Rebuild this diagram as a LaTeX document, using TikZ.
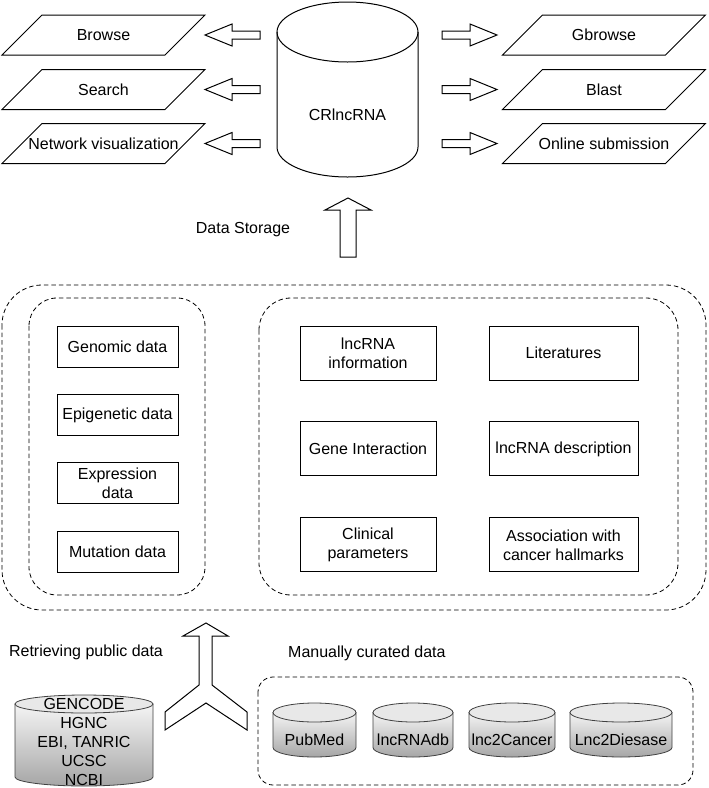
\documentclass[tikz,border=0pt]{standalone}
\usepackage{fontspec}
\setmainfont{Liberation Sans}
\usetikzlibrary{positioning, calc}
\tikzset{
  txt/.style = {font=\fontsize{16}{19}\selectfont, align=center, inner sep=0pt},
  box/.style = {txt, draw, line width=0.9pt},
  leftbox/.style = {box, minimum width=121pt, minimum height=41pt},
  infobox/.style = {box, minimum height=54pt},
  group/.style = {draw, line width=0.8pt, dash pattern=on 4.5pt off 3pt},
  outline/.style = {draw, line width=1pt, line join=miter},
  cylbody/.style = {draw=black!75, line width=0.8pt, top color=gray!8, bottom color=gray!70},
  cyltop/.style = {draw=black!75, line width=0.8pt, fill=gray!18},
  sidearr/.pic = {\draw[outline] (-27.5,4) -- (0.5,4) -- (0.5,11) -- (27.5,0)
    -- (0.5,-11) -- (0.5,-4) -- (-27.5,-4) -- cycle;}
}

\begin{document}
\begin{tikzpicture}[x=1pt, y=1pt]
\useasboundingbox (0,0) rectangle (709,-788);

% database in the middle
\draw[outline] (277,-32) -- (277,-147)
  arc[start angle=180, end angle=360, x radius=70.5, y radius=30] -- (418,-32);
\draw[outline] (347.5,-32) ellipse [x radius=70.5, y radius=30];
\node[txt] (crlnc) at (347.5,-115) {CRlncRNA};

% web functions
\foreach \nm/\cx/\cy/\txt in {browse/103.5/35/Browse, search/103.5/89.5/Search,
    netvis/103.5/143.5/Network visualization, gbrowse/604/35/Gbrowse,
    blast/604/89.5/Blast, submit/604/143.5/Online submission}{
  \node[txt] (\nm) at (\cx,-\cy) {\txt};
  \draw[outline] ($(\nm.center)+(-61.5,20)$) -- ++(163,0) -- ++(-40,-40)
    -- ++(-163,0) -- cycle;
}
\foreach \cy [count=\i] in {35,89.5,143.5}{
  \pic[rotate=180] (out\i) at (232.5,-\cy) {sidearr};
  \pic (in\i) at (469.5,-\cy) {sidearr};
}

% storage
\draw[outline] (348,-198) -- (371,-210) -- (356,-210) -- (356,-257) -- (340,-257)
  -- (340,-210) -- (325,-210) -- cycle;
\node[txt] (storage) at (243,-230) {Data Storage};

% collected data
\draw[group, rounded corners=40pt] (2,-285) rectangle (706,-610);
\draw[group, rounded corners=28pt] (29,-298) rectangle (205,-595);
\draw[group, rounded corners=32pt] (259,-298) rectangle (678,-595);

\node[leftbox] (genomic) at (117.5,-346.5) {Genomic data};
\node[leftbox, below=26.5pt of genomic] (epigen) {Epigenetic data};
\node[leftbox, below=26.5pt of epigen] (express) {Expression\\data};
\node[leftbox, below=26.5pt of express] (mutation) {Mutation data};

\node[infobox, minimum width=136pt] (lncinfo) at (368,-353) {lncRNA\\information};
\node[infobox, minimum width=149pt] (literat) at (563.5,-353) {Literatures};
\node[infobox, minimum width=136pt, below=41pt of lncinfo] (geneint) {Gene Interaction};
\node[infobox, minimum width=149pt, below=41pt of literat] (lncdesc) {lncRNA description};
\node[infobox, minimum width=136pt, below=41pt of geneint] (clinical) {Clinical\\parameters};
\node[infobox, minimum width=149pt, below=41pt of lncdesc] (hallmark) {Association with\\cancer hallmarks};

% sources
\draw[outline] (206,-623) -- (228,-636) -- (212,-636) -- (212,-685) -- (247,-712)
  -- (247,-730) -- (206,-703) -- (165,-730) -- (165,-712) -- (199,-685)
  -- (199,-636) -- (183,-636) -- cycle;
\node[txt] (retrieve) at (86,-652) {Retrieving public data};
\node[txt, anchor=west] (manual) at (288,-653) {Manually curated data};

\path[cylbody] (15,-704) -- (15,-777)
  arc[start angle=180, end angle=360, x radius=69, y radius=9] -- (153,-704) -- cycle;
\path[cyltop] (84,-704) ellipse [x radius=69, y radius=9];
\node[txt] (public) at (84,-742) {GENCODE\\HGNC\\EBI, TANRIC\\UCSC\\NCBI};

\draw[group, rounded corners=15pt] (258,-677) rectangle (693,-785);
\foreach \nm/\cx/\rx/\txt in {pubmed/314.5/41.5/PubMed, lncdb/413/40/lncRNAdb,
    lnccan/512/43/lnc2Cancer, lncdis/621/51/Lnc2Diesase}{
  \path[cylbody] ({\cx-\rx},-712.5) -- ({\cx-\rx},-747.5)
    arc[start angle=180, end angle=360, x radius=\rx, y radius=9.5]
    -- ({\cx+\rx},-712.5) -- cycle;
  \path[cyltop] (\cx,-712.5) ellipse [x radius=\rx, y radius=9.5];
  \node[txt] (\nm) at (\cx,-740) {\txt};
}
\end{tikzpicture}
\end{document}
